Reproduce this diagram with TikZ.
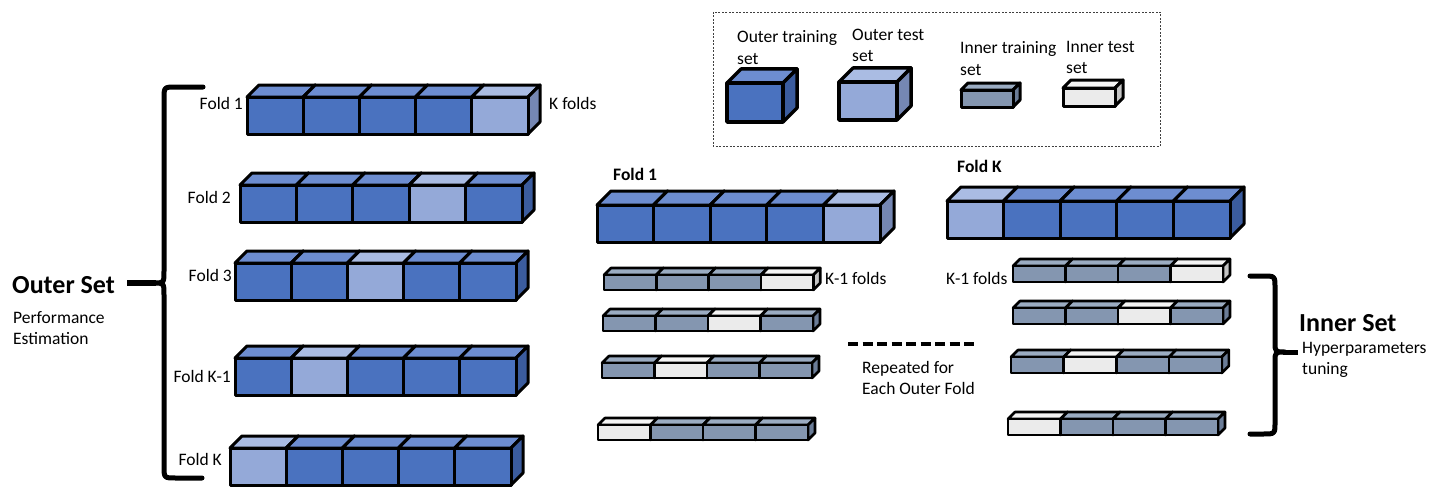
\documentclass[tikz,border=0pt]{standalone}
\usepackage{fontspec}
\setmainfont{Carlito}
\definecolor{trF}{HTML}{4A72BF}
\definecolor{trT}{HTML}{6D8DD0}
\definecolor{trS}{HTML}{3B5C9E}
\definecolor{otF}{HTML}{94A9D8}
\definecolor{otT}{HTML}{AABCE3}
\definecolor{otS}{HTML}{7587B3}
\definecolor{itF}{HTML}{8496B0}
\definecolor{itT}{HTML}{9BACC2}
\definecolor{itS}{HTML}{6B7D98}
\definecolor{ieF}{HTML}{EBEBEB}
\definecolor{ieT}{HTML}{F4F4F4}
\definecolor{ieS}{HTML}{C4C4C4}
\newcommand{\cubeat}[8]{% x y w h d front top side
  \filldraw[fill=#7] (#1,#2) -- ++(#5,-#5) -- ++(#3,0) -- ++(-#5,#5) -- cycle;
  \filldraw[fill=#8] (#1+#3,#2) -- ++(#5,-#5) -- ++(0,#4) -- ++(-#5,#5) -- cycle;
  \filldraw[fill=#6] (#1,#2) rectangle ++(#3,#4);
}
% x y w h d n testidx prefix-train prefix-test
\newcommand{\cuberow}[9]{%
  \foreach \i in {1,...,#6}{%
    \pgfmathsetmacro\xx{#1+(\i-1)*#3}%
    \ifnum\i=#7\relax
      \cubeat{\xx}{#2}{#3}{#4}{#5}{#9F}{#9T}{#9S}
    \else
      \cubeat{\xx}{#2}{#3}{#4}{#5}{#8F}{#8T}{#8S}
    \fi
  }%
}
\begin{document}
\begin{tikzpicture}[x=1pt,y=-1pt,
  lbl/.style={inner sep=0pt,font=\fontsize{17.5}{21}\selectfont},
  blbl/.style={inner sep=0pt,font=\fontsize{17.5}{21}\selectfont\bfseries},
  big/.style={inner sep=0pt,font=\fontsize{26}{30}\selectfont\bfseries},
  multi/.style={inner sep=0pt,align=left,font=\fontsize{17.5}{21}\selectfont},
  bracepath/.style={line width=5pt,line cap=round,line join=round}]
\useasboundingbox (0,0) rectangle (1437,487);

% legend box
\draw[line width=0.8pt,black!75,dash pattern=on 2pt off 1.5pt] (713,12) rectangle (1160,146);
\begin{scope}[line width=3.5pt,line join=round]
  \cubeat{727}{83}{56}{39}{14}{trF}{trT}{trS}
  \cubeat{839}{82}{58}{38}{14}{otF}{otT}{otS}
\end{scope}
\begin{scope}[line width=3pt,line join=round]
  \cubeat{961}{90}{52}{17}{7}{itF}{itT}{itS}
  \cubeat{1063}{88}{52}{18}{8}{ieF}{ieT}{ieS}
\end{scope}
\node[multi,anchor=base west] (lg1) at (737,64) {Outer training\\set};
\node[multi,anchor=base west] (lg2) at (852,62) {Outer test\\set};
\node[multi,anchor=base west] (lg3) at (960,75) {Inner training\\set};
\node[multi,anchor=base west] (lg4) at (1066,74) {Inner test\\set};

% outer folds
\begin{scope}[line width=3pt,line join=round]
  \cuberow{247}{97}{56.2}{37}{12}{5}{5}{tr}{ot}
  \cuberow{240}{185}{56.4}{37}{12}{5}{4}{tr}{ot}
  \cuberow{235}{263}{56.2}{37}{12}{5}{3}{tr}{ot}
  \cuberow{235}{358}{56.2}{37}{12}{5}{2}{tr}{ot}
  \cuberow{230}{448}{56.2}{37}{12}{5}{1}{tr}{ot}
  % middle outer rows
  \cuberow{597}{205}{56.6}{37}{14}{5}{5}{tr}{ot}
  \cuberow{947}{201}{56.6}{37}{14}{5}{1}{tr}{ot}
\end{scope}
\begin{scope}[line width=2.6pt,line join=round]
  \cuberow{604}{275}{52.3}{15}{7}{4}{4}{it}{ie}
  \cuberow{603}{316}{52.5}{15}{7}{4}{3}{it}{ie}
  \cuberow{602}{363}{52.5}{15}{7}{4}{2}{it}{ie}
  \cuberow{598}{425}{52.5}{15}{7}{4}{1}{it}{ie}
  \cuberow{1013}{266}{52.5}{16}{7}{4}{4}{it}{ie}
  \cuberow{1013}{308}{52.5}{16}{7}{4}{3}{it}{ie}
  \cuberow{1011}{357}{52.7}{16}{7}{4}{2}{it}{ie}
  \cuberow{1008}{419}{52.5}{16}{7}{4}{1}{it}{ie}
\end{scope}

% fold labels
\node[lbl,anchor=east] (f1) at (243,103) {Fold 1};
\node[lbl,anchor=east] (f2) at (231,197) {Fold 2};
\node[lbl,anchor=east] (f3) at (232,275) {Fold 3};
\node[lbl,anchor=east] (fk1) at (231,376) {Fold K-1};
\node[lbl,anchor=east] (fk) at (222,459) {Fold K};
\node[lbl,anchor=west] (kf) at (549,103) {K folds};
\node[blbl,anchor=west] (mf1) at (613,174) {Fold 1};
\node[blbl,anchor=west] (mfk) at (957,166) {Fold K};
\node[lbl,anchor=west] (k1a) at (825,278) {K-1 folds};
\node[lbl,anchor=west] (k1b) at (946,278) {K-1 folds};

% outer set brace
\draw[bracepath] (203,87) -- (176,87) .. controls (164,87) .. (164,99) -- (164,271)
  .. controls (164,283) .. (154,283) .. controls (164,283) .. (164,295) -- (164,466)
  .. controls (164,478) .. (176,478) -- (202,478);
\draw[line width=5.5pt] (127,283) -- (156,283);
\node[big,anchor=west] (outer) at (12,285) {Outer Set};
\node[multi,anchor=base west] (perf) at (13,344) {Performance\\Estimation};

% inner set brace
\draw[bracepath] (1250,276) -- (1263,276) .. controls (1275,276) .. (1275,288) -- (1275,342)
  .. controls (1275,352) .. (1285,352) .. controls (1275,352) .. (1275,362) -- (1275,422)
  .. controls (1275,434) .. (1263,434) -- (1250,434);
\draw[line width=5pt] (1283,352) -- (1298,352);
\node[big,anchor=west] (inner) at (1299,323) {Inner Set};
\node[multi,anchor=base west] (hyp) at (1302,374) {Hyperparameters\\tuning};

% repeated
\coordinate (ds) at (848,344);
\coordinate (de) at (978,344);
\draw[line width=4pt,dash pattern=on 10pt off 4.5pt] (ds) -- (de);
\node[multi,anchor=base west] (rep) at (862,394) {Repeated for\\Each Outer Fold};
\end{tikzpicture}
\end{document}
